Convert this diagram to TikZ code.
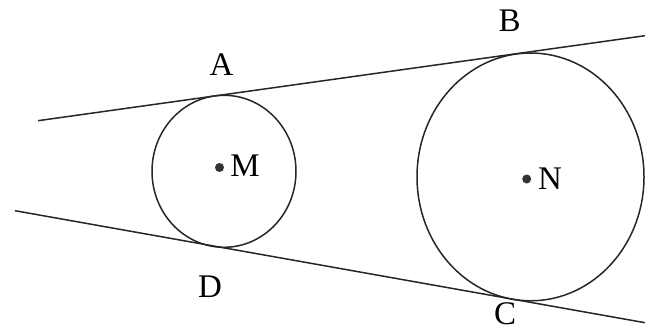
\documentclass[tikz,border=0pt]{standalone}
\usepackage{fontspec}
\setmainfont{Liberation Serif}
\begin{document}
\begin{tikzpicture}[x=1pt,y=-1pt,
  geom/.style={line width=1.5pt,black!85},
  lbl/.style={inner sep=0pt,font=\fontsize{33}{38}\selectfont},
  ctr/.style={circle,fill=black!80,inner sep=0pt,minimum size=9pt}]
\useasboundingbox (0,0) rectangle (645,334);
% tangent lines
\coordinate (T1) at (38,120.7);
\coordinate (T2) at (645,35.7);
\coordinate (B1) at (15,210.7);
\coordinate (B2) at (645,322.7);
\draw[geom] (T1) -- (T2);
\draw[geom] (B1) -- (B2);
% circles
\coordinate (Mc) at (224,171.3);
\coordinate (Nc) at (530.5,176.9);
\draw[geom] (Mc) ellipse [x radius=72pt, y radius=76pt];
\draw[geom] (Nc) ellipse [x radius=113.5pt, y radius=123.9pt];
% centres
\node[ctr] (dM) at (219.5,167.5) {};
\node[ctr] (dN) at (526.7,179) {};
\node[lbl] (M) at (245,166) {M};
\node[lbl] (N) at (550,178.5) {N};
% points
\node[lbl] (A) at (221.5,65) {A};
\node[lbl] (B) at (509.5,21) {B};
\node[lbl] (C) at (505,314) {C};
\node[lbl] (D) at (210,287) {D};
\end{tikzpicture}
\end{document}
